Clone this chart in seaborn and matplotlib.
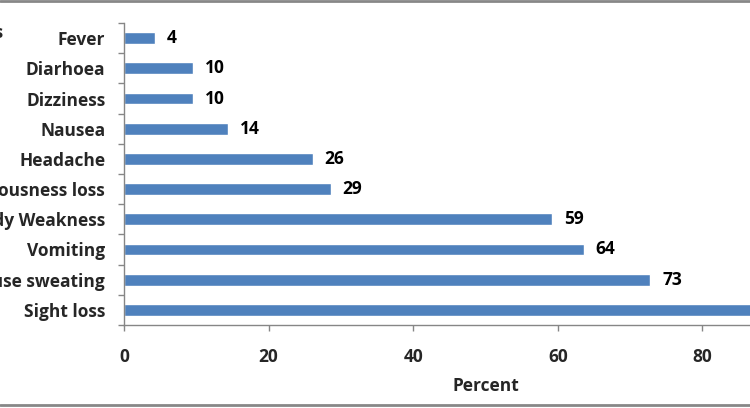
import matplotlib
matplotlib.use("Agg")
import matplotlib.pyplot as plt
import seaborn as sns
import pandas as pd
import numpy as np
from matplotlib.lines import Line2D

symptoms = ["Fever", "Diarhoea", "Dizziness", "Nausea", "Headache",
            "Consciousness loss", "Body Weakness", "Vomiting",
            "Profuse sweating", "Sight loss"]
percent = [4.3, 9.6, 9.6, 14.4, 26.1, 28.6, 59.2, 63.6, 72.8, 91.0]
labels = ["4", "10", "10", "14", "26", "29", "59", "64", "73", "91"]
x_ticks = [0, 20, 40, 60, 80, 100]

df = pd.DataFrame({"Symptom": symptoms, "Percent": percent})

sns.set_theme(style="white")
plt.rcParams["font.family"] = ["Open Sans", "DejaVu Sans"]
FS = 12.5

W, H = 750, 408
fig = plt.figure(figsize=(W / 100, H / 100), dpi=100)
left_px, right_px, top_px, bot_px = 124, 847, 23, 325
ax = fig.add_axes([left_px / W, (H - bot_px) / H,
                   (right_px - left_px) / W, (bot_px - top_px) / H])

sns.barplot(data=df, x="Percent", y="Symptom", orient="h", color="#4F81BD",
            saturation=1, width=0.39, ax=ax)

ax.set_xlim(0, 100)
ax.set_ylim(len(symptoms) - 0.5, -0.5)
ax.set_xticks(x_ticks)
ax.set_xticklabels([str(t) for t in x_ticks], fontsize=FS, fontweight="bold")
ax.set_yticks(range(len(symptoms)))
ax.set_yticklabels(symptoms, fontsize=FS, fontweight="bold")
ax.set_yticks(np.arange(-0.5, len(symptoms), 1.0), minor=True)
ax.tick_params(axis="y", which="major", length=0, pad=13.5)
ax.tick_params(axis="y", which="minor", length=4.5, width=1, color="#868686", left=True)
ax.tick_params(axis="x", which="major", length=4.5, width=1, color="#868686",
               bottom=True, pad=12)
ax.set_ylabel("")
ax.set_xlabel("Percent", fontsize=FS, fontweight="bold", labelpad=8)

for s in ["top", "right"]:
    ax.spines[s].set_visible(False)
for s in ["left", "bottom"]:
    ax.spines[s].set_color("#868686")
    ax.spines[s].set_linewidth(1)

ax.bar_label(ax.containers[0], labels=labels, padding=8.5,
             fontsize=FS, fontweight="bold", color="black")

fig.text(3 / W, 1 - 33 / H, "Symptoms", ha="right", va="center",
         fontsize=FS, fontweight="bold")

fig.add_artist(Line2D([0, 1], [1 - 1 / H, 1 - 1 / H], color="#878787", lw=2))
fig.add_artist(Line2D([0, 1], [1 - 405 / H, 1 - 405 / H], color="#878787", lw=2))

fig.savefig("out.png", dpi=100)
